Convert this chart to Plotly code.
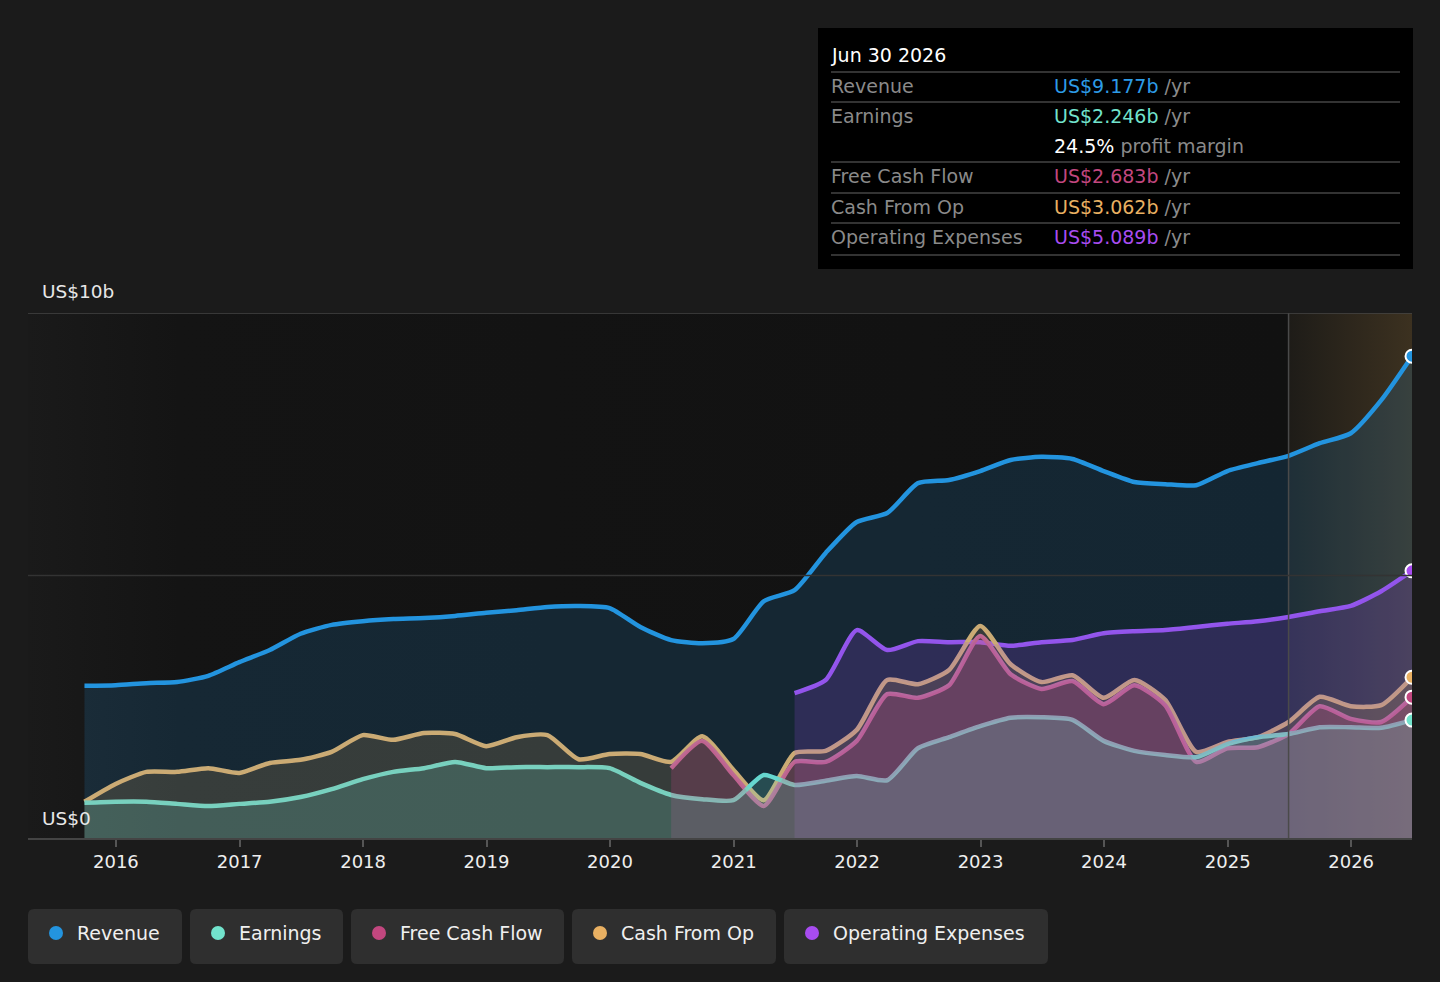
import pandas as pd
import plotly.graph_objects as go

# quarter ends, Sep 2015 .. Jun 2026
quarters = pd.date_range("2015-09-30", "2026-06-30", freq="QE").strftime("%Y-%m-%d").tolist()

revenue = [2.90, 2.91, 2.95, 2.97, 3.09, 3.35, 3.58, 3.89, 4.06, 4.13, 4.17, 4.19, 4.23, 4.29, 4.34,
           4.40, 4.42, 4.38, 4.02, 3.77, 3.71, 3.79, 4.51, 4.72, 5.43, 6.02, 6.19, 6.76, 6.82, 6.99,
           7.20, 7.26, 7.22, 6.99, 6.78, 6.74, 6.72, 6.99, 7.14, 7.28, 7.52, 7.71, 8.34, 9.177]
earnings = [0.67, 0.69, 0.69, 0.65, 0.61, 0.65, 0.69, 0.78, 0.93, 1.12, 1.26, 1.33, 1.45, 1.33, 1.35,
            1.35, 1.35, 1.33, 1.05, 0.82, 0.74, 0.72, 1.20, 1.01, 1.09, 1.18, 1.10, 1.71, 1.92, 2.13,
            2.29, 2.30, 2.25, 1.85, 1.66, 1.58, 1.54, 1.79, 1.92, 1.98, 2.11, 2.11, 2.10, 2.246]
cash_from_op = [0.69, 1.03, 1.26, 1.26, 1.33, 1.24, 1.43, 1.49, 1.64, 1.96, 1.87, 2.00, 1.98, 1.75, 1.92,
                1.96, 1.50, 1.60, 1.60, 1.45, 1.94, 1.30, 0.72, 1.62, 1.66, 2.06, 3.01, 2.93, 3.20, 4.04,
                3.31, 2.97, 3.10, 2.67, 3.01, 2.63, 1.64, 1.83, 1.92, 2.21, 2.69, 2.51, 2.53, 3.062]
# starts Jun 2020
free_cash_flow = [1.33, 1.85, 1.20, 0.61, 1.45, 1.45, 1.85, 2.74, 2.67, 2.91, 3.85, 3.12, 2.84, 2.99,
                  2.55, 2.91, 2.53, 1.45, 1.71, 1.73, 1.98, 2.51, 2.27, 2.21, 2.683]
# starts Jun 2021
operating_expenses = [2.76, 3.01, 3.96, 3.58, 3.75, 3.73, 3.73, 3.66, 3.73, 3.77, 3.90, 3.94, 3.96,
                      4.02, 4.08, 4.13, 4.21, 4.32, 4.42, 4.70, 5.089]

year_ticks = [f"{y}-01-01" for y in range(2016, 2027)]
year_labels = [str(y) for y in range(2016, 2027)]
forecast_start = "2025-06-30"

series = [
    # name, values, line colour, fill colour, legend colour
    ("Revenue", revenue, "#2394df", "rgba(35,148,223,0.16)", "#2394df"),
    ("Earnings", earnings, "#72e3cc", "rgba(114,227,204,0.20)", "#72e3cc"),
    ("Free Cash Flow", free_cash_flow, "#d2558f", "rgba(200,70,130,0.22)", "#c2477f"),
    ("Cash From Op", cash_from_op, "#e9b062", "rgba(233,176,98,0.16)", "#e9b062"),
    ("Operating Expenses", operating_expenses, "#a84cf0", "rgba(150,70,230,0.20)", "#a84cf0"),
]

W, H = 1440, 982
L, R, T, B = 28, 1412, 313, 838


def px(x):
    return (x - L) / (R - L)


def py(y):
    return (B - y) / (B - T)


def rrect(x0, y0, x1, y1, r):
    a, b, c, d = px(x0), px(x1), py(y0), py(y1)
    rx, ry = r / (R - L), r / (B - T)
    return (f"M{a+rx},{c} L{b-rx},{c} Q{b},{c} {b},{c-ry} L{b},{d+ry} Q{b},{d} {b-rx},{d} "
            f"L{a+rx},{d} Q{a},{d} {a},{d+ry} L{a},{c-ry} Q{a},{c} {a+rx},{c} Z")


fig = go.Figure()

# background shading: history and forecast
fig.add_trace(go.Scatter(
    x=["2015-04-16", forecast_start, forecast_start, "2015-04-16"], y=[0, 0, 10, 10],
    fill="toself", mode="none", hoverinfo="skip", showlegend=False,
    fillgradient=dict(type="horizontal",
                      colorscale=[[0, "#1a1a1a"], [0.12, "#141414"], [1, "#111111"]]),
))
fig.add_trace(go.Scatter(
    x=[forecast_start, "2026-06-30", "2026-06-30", forecast_start], y=[0, 0, 10, 10],
    fill="toself", mode="none", hoverinfo="skip", showlegend=False,
    fillgradient=dict(type="horizontal",
                      colorscale=[[0, "rgba(30,28,24,1)"], [1, "rgba(60,49,32,1)"]]),
))

draw_order = [0, 4, 3, 2, 1]

# lines first, fills on top so they tint the lower lines
for i in draw_order:
    name, vals, lc, fc, _ = series[i]
    xs = quarters[len(quarters) - len(vals):]
    fig.add_trace(go.Scatter(x=xs, y=vals, mode="lines", line=dict(color=lc, width=4.5, shape="spline",
                                                                   smoothing=0.6),
                             hoverinfo="skip", showlegend=False))
for i in draw_order:
    name, vals, lc, fc, _ = series[i]
    xs = quarters[len(quarters) - len(vals):]
    fig.add_trace(go.Scatter(x=xs, y=vals, mode="lines", line=dict(width=0, shape="spline",
                                                                   smoothing=0.6),
                             fill="tozeroy", fillcolor=fc, hoverinfo="skip", showlegend=False))

# end markers
for name, vals, lc, fc, dot in series:
    fig.add_trace(go.Scatter(x=[quarters[-1]], y=[vals[-1]], mode="markers",
                             marker=dict(size=13, color=dot, line=dict(color="white", width=2)),
                             hoverinfo="skip", showlegend=False))

shapes = [
    dict(type="line", xref="x", yref="y", x0=forecast_start, x1=forecast_start, y0=0, y1=10,
         line=dict(color="#4a4a4a", width=1.5)),
    dict(type="line", xref="paper", yref="y", x0=0, x1=1, y0=10, y1=10, line=dict(color="#444", width=1.5)),
    dict(type="line", xref="paper", yref="y", x0=0, x1=1, y0=5, y1=5, line=dict(color="#333", width=1.5)),
    # tooltip box
    dict(type="rect", xref="paper", yref="paper", x0=px(818), x1=px(1413), y0=py(269), y1=py(28),
         fillcolor="#000000", line=dict(width=0), layer="above"),
]
for yy in [72, 102, 162, 193, 223, 255]:
    shapes.append(dict(type="line", xref="paper", yref="paper", x0=px(831), x1=px(1400), y0=py(yy), y1=py(yy),
                       line=dict(color="#444", width=1.5), layer="above"))

annotations = [
    dict(text="US$10b", x=px(40), y=py(291), xanchor="left", yanchor="middle",
         font=dict(size=18.5, color="#e8e8e8")),
    dict(text="US$0", x=px(40), y=py(818), xanchor="left", yanchor="middle",
         font=dict(size=18.5, color="#e8e8e8")),
    dict(text="Jun 30 2026", x=px(829), y=py(55), xanchor="left", yanchor="middle",
         font=dict(size=19, color="#ffffff")),
]
tooltip_rows = [
    ("Revenue", revenue, 86),
    ("Earnings", earnings, 116),
    ("Free Cash Flow", free_cash_flow, 176),
    ("Cash From Op", cash_from_op, 207),
    ("Operating Expenses", operating_expenses, 237),
]
colours = {s[0]: s[4] for s in series}
colours["Revenue"] = "#2d9be6"
for name, vals, yy in tooltip_rows:
    annotations.append(dict(text=name, x=px(829), y=py(yy), xanchor="left", yanchor="middle",
                            font=dict(size=19, color="#8a8a8a")))
    annotations.append(dict(text=f"<span style='color:{colours[name]}'>US${vals[-1]:.3f}b</span> /yr",
                            x=px(1052), y=py(yy), xanchor="left", yanchor="middle",
                            font=dict(size=19, color="#8a8a8a")))
margin_pct = earnings[-1] / revenue[-1] * 100
annotations.append(dict(text=f"<span style='color:#ffffff'>{margin_pct:.1f}%</span> profit margin",
                        x=px(1052), y=py(146), xanchor="left", yanchor="middle",
                        font=dict(size=19, color="#8a8a8a")))

# legend chips
chips = [(28, 182), (190, 343), (351, 564), (572, 776), (784, 1048)]
for (x0, x1), (name, _, _, _, dot) in zip(chips, series):
    shapes.append(dict(type="path", xref="paper", yref="paper", path=rrect(x0, 909, x1, 964, 6),
                       fillcolor="#2f2f2f", line=dict(width=0)))
    shapes.append(dict(type="circle", xref="paper", yref="paper",
                       x0=px(x0 + 21), x1=px(x0 + 35), y0=py(926), y1=py(940),
                       fillcolor=dot, line=dict(width=0)))
    annotations.append(dict(text=name, x=px(x0 + 47), y=py(933), xanchor="left", yanchor="middle",
                            font=dict(size=19, color="#f0f0f0")))

for a in annotations:
    a.update(xref="paper", yref="paper", showarrow=False)

fig.update_layout(
    width=W, height=H,
    margin=dict(l=L, r=W - R, t=T, b=H - B),
    paper_bgcolor="#1b1b1b", plot_bgcolor="#1b1b1b",
    font=dict(family="DejaVu Sans", color="#e8e8e8"),
    shapes=shapes, annotations=annotations, showlegend=False,
    xaxis=dict(type="date", range=["2015-04-16", "2026-06-30"], showgrid=False, zeroline=False,
               tickvals=year_ticks, ticktext=year_labels, ticks="outside", ticklen=7,
               tickcolor="#555", tickwidth=1.5, tickfont=dict(size=18, color="#eeeeee"),
               showline=True, linecolor="#444", linewidth=1.5, fixedrange=True),
    yaxis=dict(range=[0, 10], showgrid=False, zeroline=False, showticklabels=False, fixedrange=True),
)

# drop the default page margin so the figure sits at the window origin
fig.write_html("out.html", config={"displayModeBar": False},
               post_script="document.body.style.margin='0';"
                           "document.body.style.background='#1b1b1b';")
